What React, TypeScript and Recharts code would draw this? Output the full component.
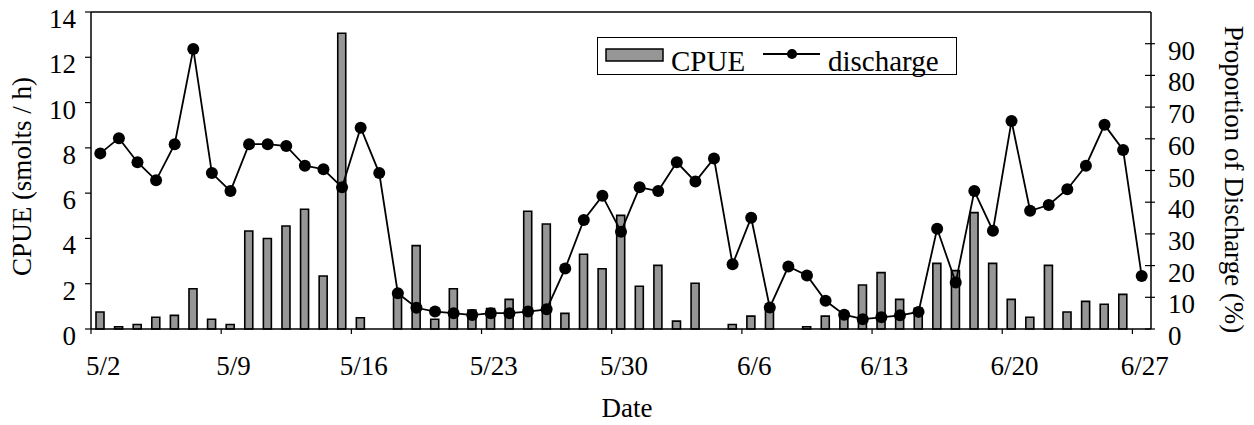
import { ComposedChart, Bar, Line, XAxis, YAxis, Legend, ReferenceLine } from 'recharts';

const dates = [
  '5/2', '5/3', '5/4', '5/5', '5/6', '5/7', '5/8', '5/9', '5/10', '5/11', '5/12', '5/13', '5/14', '5/15',
  '5/16', '5/17', '5/18', '5/19', '5/20', '5/21', '5/22', '5/23', '5/24', '5/25', '5/26', '5/27', '5/28',
  '5/29', '5/30', '5/31', '6/1', '6/2', '6/3', '6/4', '6/5', '6/6', '6/7', '6/8', '6/9', '6/10', '6/11',
  '6/12', '6/13', '6/14', '6/15', '6/16', '6/17', '6/18', '6/19', '6/20', '6/21', '6/22', '6/23', '6/24',
  '6/25', '6/26', '6/27',
];

// CPUE (smolts / h), left axis
const cpue = [
  0.75, 0.1, 0.2, 0.52, 0.6, 1.78, 0.43, 0.2, 4.33, 4.0, 4.55, 5.29, 2.34, 13.06,
  0.5, 0, 1.55, 3.68, 0.43, 1.78, 0.84, 0.9, 1.31, 5.2, 4.64, 0.69, 3.3,
  2.66, 5.02, 1.89, 2.81, 0.35, 2.02, 0, 0.2, 0.57, 1.0, 0, 0.1, 0.57, 0.5,
  1.94, 2.49, 1.31, 0.91, 2.9, 2.58, 5.14, 2.9, 1.31, 0.52, 2.81, 0.75, 1.22,
  1.09, 1.53, 0,
];

// proportion of discharge (%), right axis
const discharge = [
  55.4, 60.2, 52.6, 46.9, 58.3, 88.3, 49.2, 43.5, 58.3, 58.3, 57.7, 51.5, 50.4, 44.7,
  63.5, 49.2, 11.3, 6.7, 5.5, 5.0, 4.4, 5.0, 5.0, 5.5, 6.2, 19.1, 34.4,
  42.0, 30.7, 44.7, 43.5, 52.6, 46.5, 53.8, 20.4, 35.1, 6.8, 19.7, 16.9, 8.9, 4.5,
  3.1, 3.7, 4.3, 5.4, 31.6, 14.7, 43.5, 31.0, 65.6, 37.3, 39.1, 44.1, 51.5,
  64.4, 56.5, 16.7,
];

const leftTicks = [0, 2, 4, 6, 8, 10, 12, 14];
const rightTicks = [0, 10, 20, 30, 40, 50, 60, 70, 80, 90];

const data = dates.map((date, i) => ({ date, cpue: cpue[i], discharge: discharge[i] }));

const FONT = '"Liberation Serif", "Times New Roman", serif';
const PLOT_LEFT = 91;
const PLOT_RIGHT = 1151;
const HALF_BAND = (PLOT_RIGHT - PLOT_LEFT) / dates.length / 2;

function DateTick({ x, y, payload }: any) {
  return (
    <g>
      <line x1={x - HALF_BAND} x2={x - HALF_BAND} y1={y} y2={y + 5} stroke="#000" strokeWidth={1.2} />
      <text x={x + 3} y={y + 46} textAnchor="middle" fontSize={27} fontFamily={FONT} fill="#000">
        {payload.value}
      </text>
    </g>
  );
}

function LeftTick({ x, y, payload }: any) {
  return (
    <g>
      <line x1={x - 6} x2={x} y1={y} y2={y} stroke="#000" strokeWidth={1.2} />
      <text x={x - 15} y={y + 16} textAnchor="end" fontSize={27} fontFamily={FONT} fill="#000">
        {payload.value}
      </text>
    </g>
  );
}

function RightTick({ x, y, payload }: any) {
  return (
    <g>
      <line x1={x - 6} x2={x + 4} y1={y} y2={y} stroke="#000" strokeWidth={1.2} />
      <text x={x + 17} y={y + 16} textAnchor="start" fontSize={27} fontFamily={FONT} fill="#000">
        {payload.value}
      </text>
    </g>
  );
}

function LegendBox() {
  return (
    <div style={{ width: 360, height: 38, border: '1px solid #000', background: '#fff', boxSizing: 'border-box' }}>
      <svg width={358} height={36} style={{ display: 'block', overflow: 'visible' }}>
        <rect x={8} y={11} width={57} height={12} fill="#969696" stroke="#000" strokeWidth={1.5} />
        <text x={73} y={33} fontSize={29} fontFamily={FONT} fill="#000">CPUE</text>
        <line x1={165} x2={222} y1={16} y2={16} stroke="#000" strokeWidth={2} />
        <circle cx={194} cy={16} r={5} fill="#000" />
        <text x={230} y={33} fontSize={29} fontFamily={FONT} fill="#000">discharge</text>
      </svg>
    </div>
  );
}

export default function App() {
  return (
    <div>
      <style>{'body{margin:0}'}</style>
      <ComposedChart width={1254} height={425} data={data} margin={{ top: 12, right: 0, bottom: 0, left: 0 }}>
        <XAxis
          dataKey="date"
          interval={6}
          height={96}
          tickSize={0}
          tickMargin={0}
          tickLine={false}
          tick={<DateTick />}
          axisLine={{ stroke: '#000', strokeWidth: 1.5 }}
          label={{ value: 'Date', position: 'center', dx: 6, dy: 30, fontSize: 27, fontFamily: FONT, fill: '#000' }}
        />
        <YAxis
          yAxisId="left"
          domain={[0, 14]}
          ticks={leftTicks}
          width={91}
          tickSize={0}
          tickMargin={0}
          tickLine={false}
          tick={<LeftTick />}
          axisLine={{ stroke: '#000', strokeWidth: 1.5 }}
          label={{ value: 'CPUE (smolts / h)', angle: -90, position: 'center', dx: -24, dy: 6, fontSize: 27, fontFamily: FONT, fill: '#000' }}
        />
        <YAxis
          yAxisId="right"
          orientation="right"
          domain={[0, 100]}
          ticks={rightTicks}
          width={103}
          tickSize={0}
          tickMargin={0}
          tickLine={false}
          tick={<RightTick />}
          axisLine={{ stroke: '#000', strokeWidth: 1.5 }}
          label={{ value: 'Proportion of Discharge (%)', angle: 90, position: 'center', dx: 32, dy: 9, fontSize: 27, fontFamily: FONT, fill: '#000' }}
        />
        <ReferenceLine yAxisId="left" y={14} stroke="#000" strokeWidth={1.5} />
        <Legend
          layout="horizontal"
          verticalAlign="middle"
          align="center"
          wrapperStyle={{ left: 597, top: 37, width: 360, height: 38 }}
          content={() => <LegendBox />}
        />
        <Bar
          yAxisId="left"
          dataKey="cpue"
          name="CPUE"
          barSize={8}
          fill="#969696"
          stroke="#000"
          strokeWidth={1.6}
          isAnimationActive={false}
        />
        <Line
          yAxisId="right"
          type="linear"
          dataKey="discharge"
          name="discharge"
          stroke="#000"
          strokeWidth={1.8}
          dot={{ r: 6, fill: '#000', stroke: '#000', strokeWidth: 0 }}
          isAnimationActive={false}
        />
      </ComposedChart>
    </div>
  );
}
